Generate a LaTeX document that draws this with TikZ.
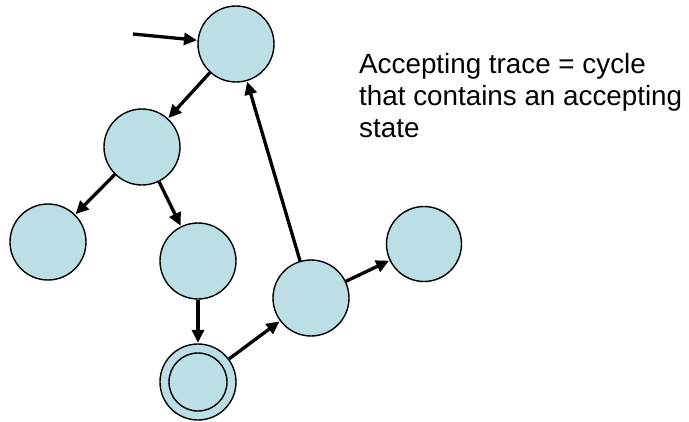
\documentclass[tikz,border=0pt]{standalone}
\usepackage{fontspec}
\setmainfont{Liberation Sans}
\usetikzlibrary{arrows.meta}
\definecolor{statefill}{RGB}{187,223,228}
\begin{document}
\begin{tikzpicture}[x=1pt,y=-1pt,
  state/.style={circle,draw=black,line width=1.4pt,fill=statefill,minimum size=76pt,inner sep=0pt},
  trans/.style={line width=3.3pt,-{Triangle[length=13pt,width=12pt]},shorten >=0.5pt}]
\useasboundingbox (0,0) rectangle (689,421);
\node[state] (s0) at (236,44) {};
\node[state] (s1) at (142,147) {};
\node[state] (s2) at (48,242) {};
\node[state] (s3) at (198,261) {};
\node[state] (s4) at (198,382) {};
\draw[line width=1.4pt] (s4.center) circle (29pt);
\node[state] (s5) at (311,298) {};
\node[state,minimum size=75pt] (s6) at (424,244) {};
\coordinate (init) at (133,34);
\draw[trans] (init) -- (s0);
\draw[trans] (s0) -- (s1);
\draw[trans] (s1) -- (s2);
\draw[trans] (s1) -- (s3);
\draw[trans] (s3) -- (s4);
\draw[trans] (s4) -- (s5);
\draw[trans] (s5) -- (s0);
\draw[trans] (s5) -- (s6);
\node[anchor=base west,align=left,font=\fontsize{27.8}{32}\selectfont,inner sep=0pt] (note) at (359,137)
  {Accepting trace = cycle\\that contains an accepting\\state};
\end{tikzpicture}
\end{document}
